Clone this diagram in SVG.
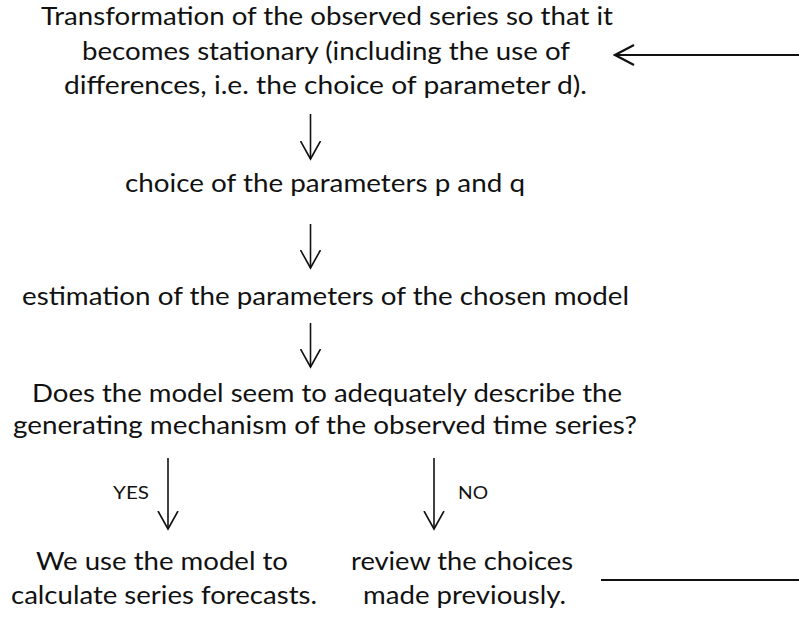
<svg xmlns="http://www.w3.org/2000/svg" width="799" height="617" viewBox="0 0 799 617">
  <style>
    .t { font-family: Lato, "Open Sans", "DejaVu Sans", sans-serif; font-size: 25px; fill: #111; }
    .lbl { font-family: Lato, "Open Sans", "DejaVu Sans", sans-serif; font-size: 17px; fill: #111; }
    .conn { fill: none; stroke: #111; stroke-width: 1.6; }
    .thick { stroke-width: 2.2; }
  </style>
  <defs>
    <marker id="chev" viewBox="0 0 20 22" refX="18" refY="11" markerWidth="20" markerHeight="22" markerUnits="userSpaceOnUse" orient="auto">
      <path d="M0,1 L18,11 L0,21" fill="none" stroke="#111" stroke-width="1.6"/>
    </marker>
    <marker id="chev2" viewBox="0 0 22 24" refX="20" refY="12" markerWidth="22" markerHeight="24" markerUnits="userSpaceOnUse" orient="auto">
      <path d="M1,2 L20,12 L1,22" fill="none" stroke="#111" stroke-width="2.2"/>
    </marker>
  </defs>
  <rect width="799" height="617" fill="#ffffff"/>

  <g id="node-transformation">
    <text class="t" x="41" y="25" textLength="572" lengthAdjust="spacingAndGlyphs">Transformation of the observed series so that it</text>
    <text class="t" x="82" y="60" textLength="488" lengthAdjust="spacingAndGlyphs">becomes stationary (including the use of</text>
    <text class="t" x="64" y="94" textLength="523" lengthAdjust="spacingAndGlyphs">differences, i.e. the choice of parameter d).</text>
  </g>

  <g id="node-choice">
    <text class="t" x="125" y="192" textLength="400" lengthAdjust="spacingAndGlyphs">choice of the parameters p and q</text>
  </g>

  <g id="node-estimation">
    <text class="t" x="22" y="305" textLength="607" lengthAdjust="spacingAndGlyphs">estimation of the parameters of the chosen model</text>
  </g>

  <g id="node-check">
    <text class="t" x="32" y="402" textLength="590" lengthAdjust="spacingAndGlyphs">Does the model seem to adequately describe the</text>
    <text class="t" x="13" y="434" textLength="624" lengthAdjust="spacingAndGlyphs">generating mechanism of the observed time series?</text>
  </g>

  <g id="node-forecast">
    <text class="t" x="36" y="570" textLength="252" lengthAdjust="spacingAndGlyphs">We use the model to</text>
    <text class="t" x="11" y="604" textLength="306" lengthAdjust="spacingAndGlyphs">calculate series forecasts.</text>
  </g>

  <g id="node-review">
    <text class="t" x="351" y="570" textLength="222" lengthAdjust="spacingAndGlyphs">review the choices</text>
    <text class="t" x="363" y="604" textLength="203" lengthAdjust="spacingAndGlyphs">made previously.</text>
  </g>

  <g id="connectors">
    <path class="conn" d="M310.5,114 L310.5,159" marker-end="url(#chev)"/>
    <path class="conn" d="M310.5,224 L310.5,268" marker-end="url(#chev)"/>
    <path class="conn" d="M310.5,323 L310.5,367" marker-end="url(#chev)"/>
    <path class="conn" d="M168,458 L168,529" marker-end="url(#chev)"/>
    <path class="conn" d="M434,458 L434,529" marker-end="url(#chev)"/>
    <path class="conn thick" d="M601,580 L799,580"/>
    <path class="conn thick" d="M799,55 L615,55" marker-end="url(#chev2)"/>
    <text class="lbl" x="113" y="499" textLength="36" lengthAdjust="spacingAndGlyphs">YES</text>
    <text class="lbl" x="458" y="499" textLength="30" lengthAdjust="spacingAndGlyphs">NO</text>
  </g>
</svg>
